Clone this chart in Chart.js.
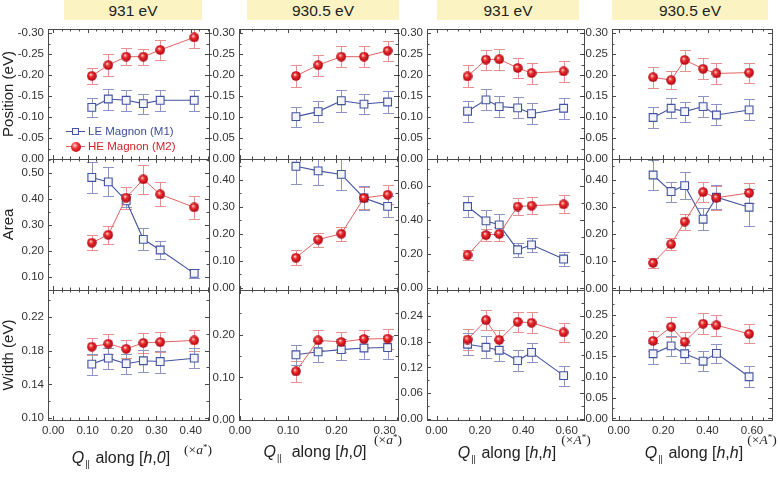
<!DOCTYPE html>
<html>
<head>
<meta charset="utf-8">
<title>Magnon fits</title>
<script src="https://cdn.jsdelivr.net/npm/chart.js@4.4.1/dist/chart.umd.min.js"></script>
<style>
  body { margin: 0; background: #fff; font-family: "Liberation Sans", Arial, sans-serif; }
  #fig { position: relative; width: 780px; height: 477px; overflow: hidden; }
  #fig canvas { position: absolute; left: 0; top: 0; }
  .hdr { position: absolute; top: 0; height: 20px; background: #fcf3c3; color: #222; font-size: 15.5px; line-height: 21px; text-align: center; }
  .xt { position: absolute; font-size: 16px; line-height: 16px; color: #222; white-space: nowrap; transform: translateX(-50%); z-index: 2; }
  .xt sub { font-size: 9px; vertical-align: -4px; margin: 0 1px; }
  .unit { position: absolute; font-family: "Liberation Serif", serif; font-size: 13.5px; color: #222; transform: translate(-50%, -50%); white-space: nowrap; z-index: 2; }
  .unit sup { font-size: 9px; vertical-align: 4px; }
  .leg { position: absolute; left: 66px; font-size: 11.5px; line-height: 14px; white-space: nowrap; z-index: 2; }
  .mk { position: relative; display: inline-block; width: 19px; height: 14px; vertical-align: top; margin-right: 3px; }
  .mk .ln { position: absolute; left: 0; right: 0; top: 7px; height: 1px; }
  .mk .sq { position: absolute; left: 6px; top: 4px; width: 7px; height: 7px; border: 1px solid #4353a0; background: #f4f5fb; box-sizing: border-box; }
  .mk .dot { position: absolute; left: 4.5px; top: 2.5px; width: 10px; height: 10px; border-radius: 50%;
             background: radial-gradient(circle at 38% 35%, #ffd6d6 0, #f03232 35%, #b00012 100%); }
</style>
</head>
<body>
<div id="fig">
  <div class="hdr" style="left:64px;width:138px">931 eV</div>
  <div class="hdr" style="left:247px;width:152px">930.5 eV</div>
  <div class="hdr" style="left:437px;width:142px">931 eV</div>
  <div class="hdr" style="left:612px;width:156px">930.5 eV</div>

  <div class="leg" style="top:124px;color:#3d4d9c"><span class="mk"><i class="ln" style="background:#4353a0"></i><i class="sq"></i></span>LE Magnon (M1)</div>
  <div class="leg" style="top:139px;color:#d0222c"><span class="mk"><i class="ln" style="background:#e46464"></i><i class="dot"></i></span>HE Magnon (M2)</div>

  <div class="xt" style="left:121px;top:450px"><i>Q</i><sub>||</sub> along [<i>h</i>,<i>0</i>]</div>
  <div class="xt" style="left:315px;top:444px"><i>Q</i><sub>||</sub>&nbsp; along [<i>h</i>,<i>0</i>]</div>
  <div class="xt" style="left:507px;top:445px"><i>Q</i><sub>||</sub> along [<i>h</i>,<i>h</i>]</div>
  <div class="xt" style="left:694px;top:445px"><i>Q</i><sub>||</sub> along [<i>h</i>,<i>h</i>]</div>

  <div class="unit" style="left:198px;top:450px">(×<i>a</i><sup>*</sup>)</div>
  <div class="unit" style="left:388px;top:440px">(×<i>a</i><sup>*</sup>)</div>
  <div class="unit" style="left:576px;top:440px">(×<i>A</i><sup>*</sup>)</div>
  <div class="unit" style="left:762px;top:440px">(×<i>A</i><sup>*</sup>)</div>
</div>
<script>
// Q positions of the points in each column
const qC1 = [0.112, 0.160, 0.212, 0.262, 0.311, 0.410];
const qC2 = [0.116, 0.162, 0.210, 0.257, 0.306];
const qC3 = [0.143, 0.228, 0.289, 0.374, 0.438, 0.586];
const qC4 = [0.155, 0.236, 0.297, 0.380, 0.440, 0.587];

// Position (eV)
const posLE_C1 = [-0.123, -0.143, -0.140, -0.132, -0.140, -0.140];
const posLE_C1_err = [0.023, 0.025, 0.025, 0.024, 0.025, 0.025];
const posHE_C1 = [-0.198, -0.224, -0.244, -0.244, -0.260, -0.290];
const posHE_C1_err = [0.020, 0.026, 0.020, 0.019, 0.024, 0.025];
const posLE_C2 = [-0.101, -0.113, -0.139, -0.131, -0.136];
const posLE_C2_err = [0.024, 0.025, 0.026, 0.024, 0.026];
const posHE_C2 = [-0.198, -0.224, -0.244, -0.244, -0.258];
const posHE_C2_err = [0.026, 0.025, 0.025, 0.025, 0.024];
const posLE_C3 = [-0.114, -0.141, -0.125, -0.122, -0.108, -0.121];
const posLE_C3_err = [0.025, 0.025, 0.025, 0.025, 0.025, 0.025];
const posHE_C3 = [-0.197, -0.237, -0.238, -0.217, -0.205, -0.209];
const posHE_C3_err = [0.026, 0.024, 0.025, 0.025, 0.025, 0.025];
const posLE_C4 = [-0.099, -0.121, -0.113, -0.125, -0.105, -0.117];
const posLE_C4_err = [0.024, 0.024, 0.024, 0.025, 0.025, 0.025];
const posHE_C4 = [-0.195, -0.188, -0.236, -0.215, -0.204, -0.206];
const posHE_C4_err = [0.025, 0.022, 0.025, 0.025, 0.024, 0.024];

// Area
const areaLE_C1 = [0.482, 0.465, 0.392, 0.244, 0.203, 0.113];
const areaLE_C1_err = [0.061, 0.056, 0.025, 0.042, 0.034, 0.017];
const areaHE_C1 = [0.231, 0.261, 0.404, 0.475, 0.417, 0.367];
const areaHE_C1_err = [0.029, 0.035, 0.043, 0.056, 0.046, 0.043];
const areaLE_C2 = [0.449, 0.432, 0.419, 0.332, 0.301];
const areaLE_C2_err = [0.064, 0.052, 0.056, 0.043, 0.040];
const areaHE_C2 = [0.111, 0.178, 0.200, 0.332, 0.344];
const areaHE_C2_err = [0.027, 0.026, 0.026, 0.041, 0.035];
const areaLE_C3 = [0.478, 0.394, 0.371, 0.225, 0.254, 0.171];
const areaLE_C3_err = [0.060, 0.065, 0.061, 0.041, 0.039, 0.042];
const areaHE_C3 = [0.194, 0.311, 0.318, 0.478, 0.483, 0.491];
const areaHE_C3_err = [0.029, 0.036, 0.039, 0.051, 0.051, 0.053];
const areaLE_C4 = [0.418, 0.357, 0.379, 0.255, 0.336, 0.299];
const areaLE_C4_err = [0.055, 0.037, 0.049, 0.040, 0.045, 0.069];
const areaHE_C4 = [0.094, 0.163, 0.246, 0.355, 0.334, 0.352];
const areaHE_C4_err = [0.018, 0.021, 0.030, 0.036, 0.044, 0.038];

// Width (eV)
const widLE_C1 = [0.164, 0.171, 0.1645, 0.168, 0.167, 0.171];
const widLE_C1_err = [0.0124, 0.0124, 0.012, 0.013, 0.013, 0.012];
const widHE_C1 = [0.1845, 0.188, 0.182, 0.189, 0.190, 0.192];
const widHE_C1_err = [0.010, 0.012, 0.011, 0.012, 0.012, 0.0126];
const widLE_C2 = [0.153, 0.160, 0.165, 0.169, 0.170];
const widLE_C2_err = [0.0235, 0.025, 0.025, 0.027, 0.027];
const widHE_C2 = [0.114, 0.187, 0.183, 0.190, 0.191];
const widHE_C2_err = [0.024, 0.0235, 0.0235, 0.022, 0.0235];
const widLE_C3 = [0.174, 0.167, 0.160, 0.136, 0.155, 0.101];
const widLE_C3_err = [0.0255, 0.025, 0.025, 0.024, 0.023, 0.023];
const widHE_C3 = [0.185, 0.230, 0.184, 0.226, 0.224, 0.2015];
const widHE_C3_err = [0.024, 0.024, 0.024, 0.023, 0.024, 0.023];
const widLE_C4 = [0.156, 0.175, 0.156, 0.138, 0.157, 0.1005];
const widLE_C4_err = [0.025, 0.025, 0.022, 0.024, 0.023, 0.025];
const widHE_C4 = [0.187, 0.221, 0.185, 0.2285, 0.225, 0.204];
const widHE_C4_err = [0.024, 0.024, 0.023, 0.025, 0.025, 0.023];

// tick labels
const posTicks = [-0.30, -0.25, -0.20, -0.15, -0.10, -0.05, 0.00];
const areaTicksC1 = [0.10, 0.20, 0.30, 0.40, 0.50];
const areaTicksC2 = [0.00, 0.10, 0.20, 0.30, 0.40];
const areaTicksC3 = [0.00, 0.20, 0.40, 0.60];
const areaTicksC4 = [0.00, 0.10, 0.20, 0.30, 0.40];
const widTicksC1 = [0.10, 0.14, 0.18, 0.22];
const widTicksC2 = [0.00, 0.10, 0.20];
const widTicksC3 = [0.00, 0.06, 0.12, 0.18, 0.24];
const widTicksC4 = [0.00, 0.05, 0.10, 0.15, 0.20, 0.25];
const qTicksC1 = [0.00, 0.10, 0.20, 0.30, 0.40];
const qTicksC2 = [0.00, 0.10, 0.20, 0.30];
const qTicksC3 = [0.00, 0.20, 0.40, 0.60];
const qTicksC4 = [0.00, 0.20, 0.40, 0.60];

const FONT = '"Liberation Sans", Arial, sans-serif';
const TICKFONT = '"Liberation Sans Narrow", "Arial Narrow", "Liberation Sans", sans-serif';
const fig = document.getElementById('fig');

// panel geometry
const cols = [
  { L: 48,  R: 209, xMin: -0.0154, xMax: 0.453, q: qC1, qTicks: qTicksC1, qMinor: 4 },
  { L: 239, R: 398, xMin: -0.002,  xMax: 0.3275, q: qC2, qTicks: qTicksC2, qMinor: 4 },
  { L: 427, R: 584, xMin: -0.044,  xMax: 0.680, q: qC3, qTicks: qTicksC3, qMinor: 4 },
  { L: 612, R: 772, xMin: -0.030,  xMax: 0.690, q: qC4, qTicks: qTicksC4, qMinor: 4 }
];
const rows = [
  { T: 29,  B: 159, title: 'Position (eV)' },
  { T: 159, B: 290, title: 'Area' },
  { T: 290, B: 420, title: 'Width (eV)' }
];
const YW = 40, XH = 30;   // room kept for tick labels

const panels = [
  [ // position
    { le: posLE_C1, leErr: posLE_C1_err, he: posHE_C1, heErr: posHE_C1_err, min: -0.31, max: 0, ticks: posTicks, reverse: true },
    { le: posLE_C2, leErr: posLE_C2_err, he: posHE_C2, heErr: posHE_C2_err, min: -0.31, max: 0, ticks: posTicks, reverse: true },
    { le: posLE_C3, leErr: posLE_C3_err, he: posHE_C3, heErr: posHE_C3_err, min: -0.31, max: 0, ticks: posTicks, reverse: true },
    { le: posLE_C4, leErr: posLE_C4_err, he: posHE_C4, heErr: posHE_C4_err, min: -0.31, max: 0, ticks: posTicks, reverse: true }
  ],
  [ // area
    { le: areaLE_C1, leErr: areaLE_C1_err, he: areaHE_C1, heErr: areaHE_C1_err, min: 0.049, max: 0.553, ticks: areaTicksC1 },
    { le: areaLE_C2, leErr: areaLE_C2_err, he: areaHE_C2, heErr: areaHE_C2_err, min: -0.008, max: 0.476, ticks: areaTicksC2 },
    { le: areaLE_C3, leErr: areaLE_C3_err, he: areaHE_C3, heErr: areaHE_C3_err, min: -0.01, max: 0.756, ticks: areaTicksC3 },
    { le: areaLE_C4, leErr: areaLE_C4_err, he: areaHE_C4, heErr: areaHE_C4_err, min: -0.006, max: 0.477, ticks: areaTicksC4 }
  ],
  [ // width
    { le: widLE_C1, leErr: widLE_C1_err, he: widHE_C1, heErr: widHE_C1_err, min: 0.098, max: 0.2515, ticks: widTicksC1 },
    { le: widLE_C2, leErr: widLE_C2_err, he: widHE_C2, heErr: widHE_C2_err, min: 0, max: 0.305, ticks: widTicksC2 },
    { le: widLE_C3, leErr: widLE_C3_err, he: widHE_C3, heErr: widHE_C3_err, min: -0.002, max: 0.300, ticks: widTicksC3 },
    { le: widLE_C4, leErr: widLE_C4_err, he: widHE_C4, heErr: widHE_C4_err, min: -0.004, max: 0.310, ticks: widTicksC4 }
  ]
];

// shaded red ball used as point style
function makeBall(d) {
  const c = document.createElement('canvas');
  c.width = c.height = d;
  const g = c.getContext('2d');
  const grd = g.createRadialGradient(d * 0.38, d * 0.35, 0.3, d / 2, d / 2, d / 2);
  grd.addColorStop(0, '#ffd8d8');
  grd.addColorStop(0.35, '#ef3030');
  grd.addColorStop(1, '#a8000f');
  g.fillStyle = grd;
  g.beginPath();
  g.arc(d / 2, d / 2, d / 2 - 0.2, 0, Math.PI * 2);
  g.fill();
  return c;
}
const ball = makeBall(10);

// vertical error bars with caps
const errorBars = {
  id: 'errorBars',
  beforeDatasetsDraw(chart) {
    const { ctx, chartArea: a, scales: { x, y } } = chart;
    ctx.save();
    ctx.beginPath();
    ctx.rect(a.left, a.top, a.right - a.left, a.bottom - a.top);
    ctx.clip();
    chart.data.datasets.forEach(ds => {
      ctx.strokeStyle = ds.errorColor;
      ctx.lineWidth = 1;
      ds.data.forEach((p, i) => {
        const px = Math.round(x.getPixelForValue(p.x)) + 0.5;
        const y1 = Math.round(y.getPixelForValue(p.y - ds.errors[i])) + 0.5;
        const y2 = Math.round(y.getPixelForValue(p.y + ds.errors[i])) + 0.5;
        ctx.beginPath();
        ctx.moveTo(px, y1); ctx.lineTo(px, y2);
        ctx.moveTo(px - 5.5, y1); ctx.lineTo(px + 5.5, y1);
        ctx.moveTo(px - 5.5, y2); ctx.lineTo(px + 5.5, y2);
        ctx.stroke();
      });
    });
    ctx.restore();
  }
};

// box frame with inward major/minor ticks on all four sides
const frame = {
  id: 'frame',
  afterDraw(chart, args, opts) {
    const { ctx, chartArea: a, scales: { x, y } } = chart;
    ctx.save();
    ctx.strokeStyle = '#4a4a4a';
    ctx.lineWidth = 1;
    ctx.strokeRect(a.left + 0.5, a.top + 0.5, a.right - a.left, a.bottom - a.top);
    ctx.beginPath();
    const major = 4, minor = 2.5;
    const yv = y.ticks.map(t => t.value);
    const ys = yv[1] - yv[0];
    yv.forEach(v => {
      const py = Math.round(y.getPixelForValue(v)) + 0.5;
      ctx.moveTo(a.left, py); ctx.lineTo(a.left + major, py);
      ctx.moveTo(a.right, py); ctx.lineTo(a.right - major, py);
    });
    for (let v = yv[0] - ys / 2; v <= y.max + 1e-9; v += ys) {
      if (v < y.min) continue;
      const py = Math.round(y.getPixelForValue(v)) + 0.5;
      ctx.moveTo(a.left, py); ctx.lineTo(a.left + minor, py);
      ctx.moveTo(a.right, py); ctx.lineTo(a.right - minor, py);
    }
    const xv = x.ticks.map(t => t.value);
    const xs = (xv[1] - xv[0]) / opts.xMinor;
    for (let v = xv[0]; v <= x.max + 1e-9; v += xs) {
      const k = Math.round((v - xv[0]) / xs);
      const len = k % opts.xMinor === 0 ? major : minor;
      const px = Math.round(x.getPixelForValue(v)) + 0.5;
      ctx.moveTo(px, a.top); ctx.lineTo(px, a.top + len);
      ctx.moveTo(px, a.bottom); ctx.lineTo(px, a.bottom - len);
    }
    ctx.stroke();
    ctx.restore();
  }
};

function makeChart(ci, ri) {
  const c = cols[ci], r = rows[ri], s = panels[ri][ci];
  const yw = ci === 0 ? c.L : YW;
  const cv = document.createElement('canvas');
  cv.width = 780; cv.height = 477;
  fig.appendChild(cv);
  const pts = ys => c.q.map((q, i) => ({ x: q, y: ys[i] }));
  return new Chart(cv, {
    type: 'line',
    data: {
      datasets: [
        { label: 'HE Magnon (M2)', data: pts(s.he), errors: s.heErr, errorColor: '#e69090',
          borderColor: '#e46060', borderWidth: 1, pointStyle: ball, pointRadius: 5 },
        { label: 'LE Magnon (M1)', data: pts(s.le), errors: s.leErr, errorColor: '#8d94c2',
          borderColor: '#4353a0', borderWidth: 1.1, pointStyle: 'rect', pointRadius: 5.5,
          pointBackgroundColor: '#f4f5fb', pointBorderColor: '#4353a0', pointBorderWidth: 1.1 }
      ]
    },
    options: {
      responsive: false,
      animation: false,
      devicePixelRatio: 1,
      events: [],
      layout: {
        autoPadding: false,
        padding: { left: c.L - yw, right: 780 - c.R, top: r.T, bottom: 477 - r.B - XH }
      },
      plugins: { legend: { display: false }, tooltip: { enabled: false }, frame: { xMinor: c.qMinor } },
      scales: {
        x: {
          type: 'linear', min: c.xMin, max: c.xMax,
          afterBuildTicks: sc => { sc.ticks = c.qTicks.map(v => ({ value: v })); },
          afterFit: sc => { sc.height = XH; },
          grid: { display: false, drawTicks: false }, border: { display: false },
          ticks: { display: ri === 2, autoSkip: false, maxRotation: 0, padding: 4, color: '#333',
                   font: { family: TICKFONT, size: 11.5 }, callback: v => v.toFixed(2) }
        },
        y: {
          type: 'linear', min: s.min, max: s.max, reverse: !!s.reverse,
          afterBuildTicks: sc => { sc.ticks = s.ticks.map(v => ({ value: v })); },
          afterFit: sc => { sc.width = yw; },
          grid: { display: false, drawTicks: false }, border: { display: false },
          ticks: { autoSkip: false, padding: 4, color: '#333',
                   font: { family: TICKFONT, size: 11.5 }, callback: v => v.toFixed(2) },
          title: { display: ci === 0, text: r.title, color: '#222', padding: 0,
                   font: { family: FONT, size: 15 } }
        }
      }
    },
    plugins: [errorBars, frame]
  });
}

for (let ri = 0; ri < 3; ri++) {
  for (let ci = 0; ci < 4; ci++) makeChart(ci, ri);
}
</script>
</body>
</html>
